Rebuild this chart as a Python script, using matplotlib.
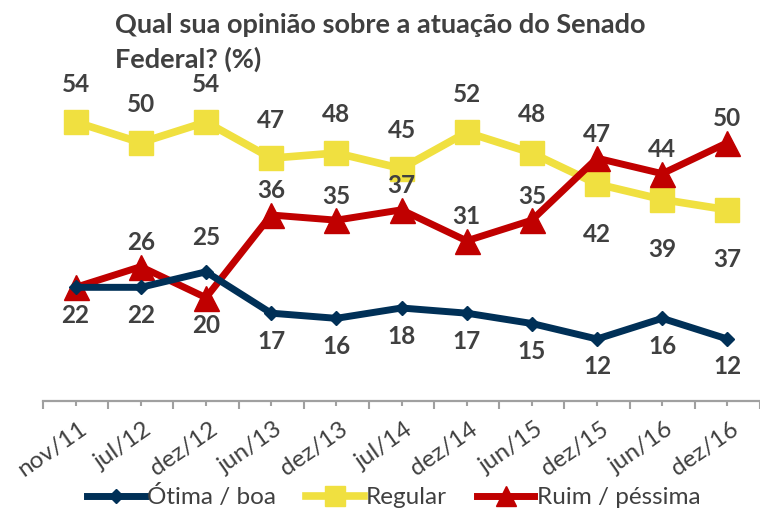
import matplotlib
matplotlib.use("Agg")
import matplotlib.pyplot as plt
from matplotlib.transforms import ScaledTranslation
from matplotlib.lines import Line2D

plt.rcParams['font.family'] = ['Lato', 'DejaVu Sans']

periods = ['nov/11', 'jul/12', 'dez/12', 'jun/13', 'dez/13', 'jul/14',
           'dez/14', 'jun/15', 'dez/15', 'jun/16', 'dez/16']
otima_boa = [22, 22, 25, 17, 16, 18, 17, 15, 12, 16, 12]
regular = [54, 50, 54, 47, 48, 45, 52, 48, 42, 39, 37]
ruim_pessima = [22, 26, 20, 36, 35, 37, 31, 35, 47, 44, 50]

# label placement: +1 above, -1 below, 0 none
side_otima = [0, -1, 1, -1, -1, -1, -1, -1, -1, -1, -1]
side_regular = [1, 1, 1, 1, 1, 1, 1, 1, -1, -1, -1]
side_ruim = [-1, 1, -1, 1, 1, 1, 1, 1, 1, 1, 1]

navy = '#003057'
yellow = '#F0E040'
red = '#C00000'
txt = '#404040'
axcol = '#A0A0A0'

fig = plt.figure(figsize=(7.6, 5.08), dpi=100)
ax = fig.add_axes([43 / 760, 107 / 508, 717 / 760, 310 / 508])

x = list(range(len(periods)))
ax.plot(x, regular, color=yellow, lw=5.5, marker='s', ms=17, zorder=2)
ax.plot(x, ruim_pessima, color=red, lw=5, marker='^', ms=18, zorder=3)
ax.plot(x, otima_boa, color=navy, lw=5, marker='D', ms=7, zorder=4)

def put_labels(vals, sides, up, down):
    for i, (v, s) in enumerate(zip(vals, sides)):
        if s == 0:
            continue
        off = up if s > 0 else -down
        ax.annotate(str(v), (i, v), xytext=(0, off * 0.72), textcoords='offset points',
                    ha='center', va='center', fontsize=17.5, fontweight='bold',
                    color=txt, zorder=6)

put_labels(regular, side_regular, 38, 50)
put_labels(ruim_pessima, side_ruim, 24, 28)
put_labels(otima_boa, side_otima, 34, 28)

ax.set_xlim(-0.5, 10.38)
ax.set_ylim(0, 60)
for s in ['top', 'right', 'left']:
    ax.spines[s].set_visible(False)
ax.spines['bottom'].set_color(axcol)
ax.spines['bottom'].set_linewidth(1.6)
ax.set_yticks([])

ax.set_xticks(x)
ax.set_xticks([i - 0.5 for i in range(len(periods) + 1)], minor=True)
ax.tick_params(axis='x', which='major', length=3.5, width=1.5, color=axcol,
               labelsize=17.5, labelcolor=txt, pad=9)
ax.tick_params(axis='x', which='minor', length=5.5, width=1.5, color=axcol)
ax.set_xticklabels(periods, rotation=35, ha='right', rotation_mode='anchor')
shift = ScaledTranslation(3 / 100, 0, fig.dpi_scale_trans)
for lbl in ax.get_xticklabels():
    lbl.set_transform(lbl.get_transform() + shift)

fig.text(115 / 760, 1 - 13 / 508, 'Qual sua opinião sobre a atuação do Senado\nFederal? (%)',
         ha='left', va='top', fontsize=19.5, fontweight='bold', color=txt, linespacing=1.45)

handles = [
    Line2D([], [], color=navy, lw=5, marker='D', ms=7),
    Line2D([], [], color=yellow, lw=5.5, marker='s', ms=14),
    Line2D([], [], color=red, lw=5, marker='^', ms=14),
]
leg = fig.legend(handles, ['Ótima / boa', 'Regular', 'Ruim / péssima'],
                 loc='lower center', bbox_to_anchor=(394 / 760, -0.02), ncol=3,
                 frameon=False, fontsize=17.5, handlelength=2.35, handletextpad=0.1,
                 columnspacing=1.25, borderaxespad=0)
for t in leg.get_texts():
    t.set_color(txt)

fig.savefig('out.png', dpi=100)
